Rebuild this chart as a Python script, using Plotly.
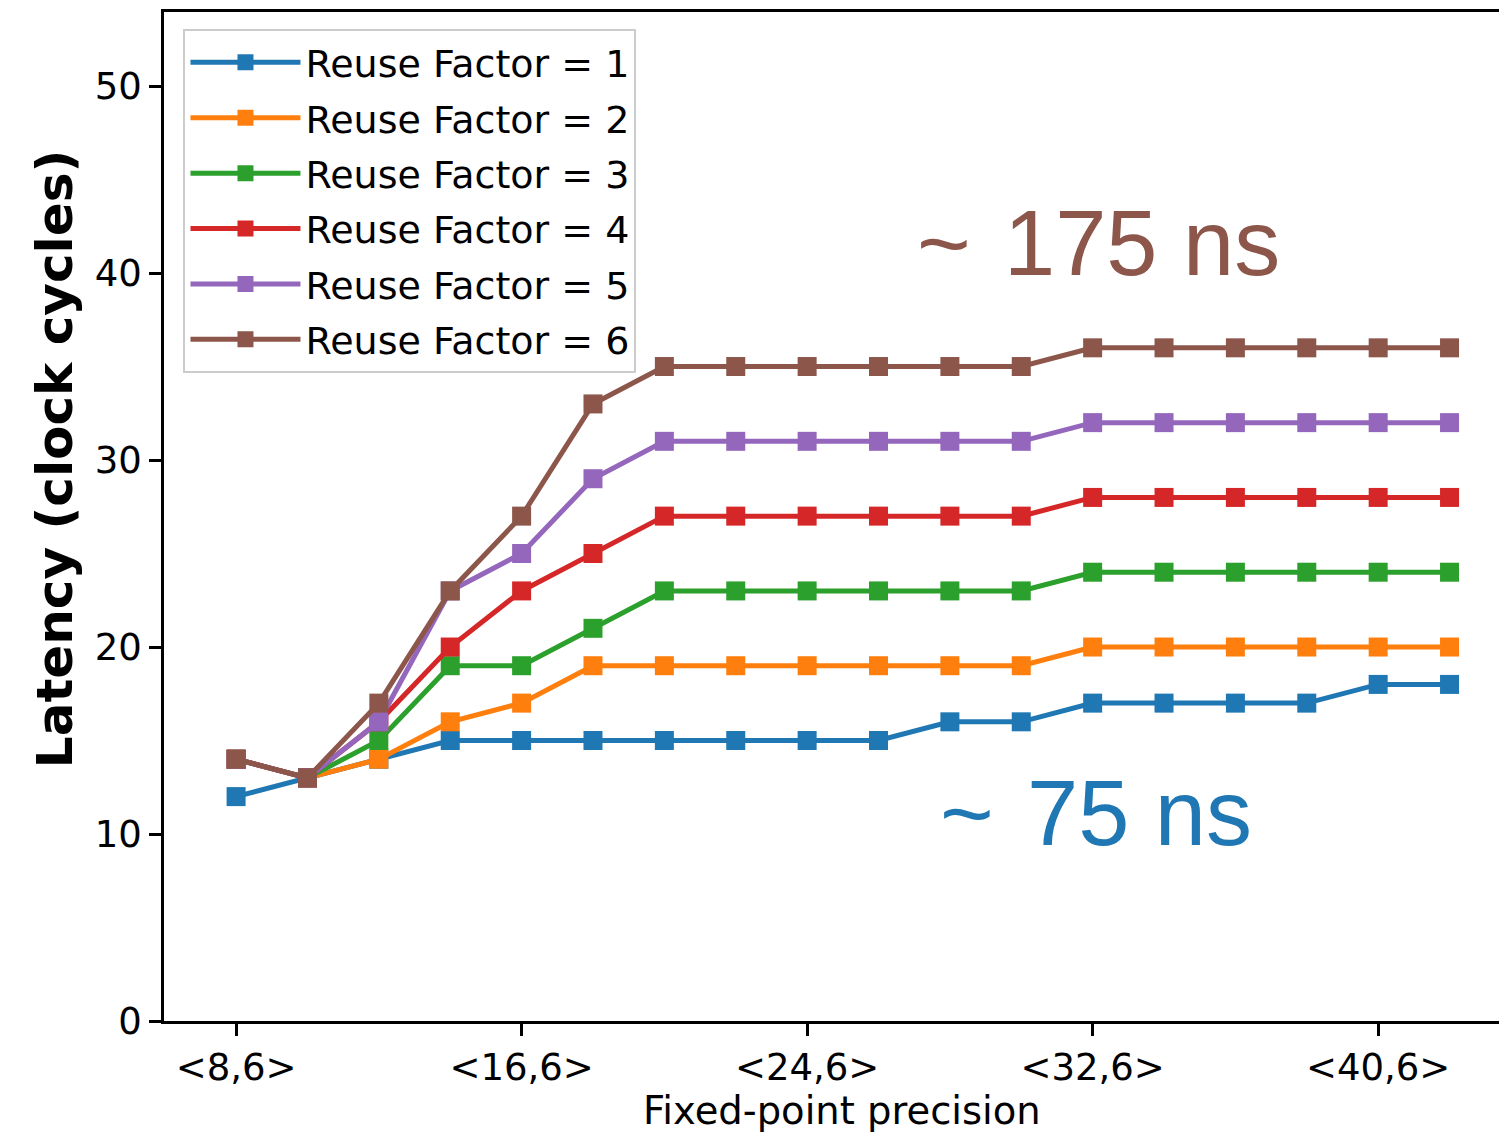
import plotly.graph_objects as go

x_bits = [8, 10, 12, 14, 16, 18, 20, 22, 24, 26, 28, 30, 32, 34, 36, 38, 40, 42]
rf1 = [12, 13, 14, 15, 15, 15, 15, 15, 15, 15, 16, 16, 17, 17, 17, 17, 18, 18]
rf2 = [14, 13, 14, 16, 17, 19, 19, 19, 19, 19, 19, 19, 20, 20, 20, 20, 20, 20]
rf3 = [14, 13, 15, 19, 19, 21, 23, 23, 23, 23, 23, 23, 24, 24, 24, 24, 24, 24]
rf4 = [14, 13, 16, 20, 23, 25, 27, 27, 27, 27, 27, 27, 28, 28, 28, 28, 28, 28]
rf5 = [14, 13, 16, 23, 25, 29, 31, 31, 31, 31, 31, 31, 32, 32, 32, 32, 32, 32]
rf6 = [14, 13, 17, 23, 27, 33, 35, 35, 35, 35, 35, 35, 36, 36, 36, 36, 36, 36]
series_names = ["Reuse Factor = 1", "Reuse Factor = 2", "Reuse Factor = 3",
                "Reuse Factor = 4", "Reuse Factor = 5", "Reuse Factor = 6"]
colors = ["#1f77b4", "#ff7f0e", "#2ca02c", "#d62728", "#9467bd", "#8c564b"]
tick_vals = [8, 16, 24, 32, 40]
tick_text = ["<8,6>", "<16,6>", "<24,6>", "<32,6>", "<40,6>"]

fig = go.Figure()
for i, (name, ys) in enumerate(zip(series_names, [rf1, rf2, rf3, rf4, rf5, rf6])):
    fig.add_trace(go.Scatter(
        x=x_bits, y=ys, name=name, mode="lines+markers",
        line=dict(color=colors[i], width=5),
        marker=dict(symbol="square", size=19, color=colors[i]),
        legendgroup=f"g{i}",
    ))

font_main = "DejaVu Sans"
# page body has an 8px margin, so the figure is shifted by 8px
fig.update_layout(
    width=1499, height=1127,
    margin=dict(l=156, r=0, t=4, b=114, autoexpand=False),
    paper_bgcolor="white", plot_bgcolor="white",
    font=dict(family=font_main, size=37, color="black"),
    showlegend=True,
    legend=dict(
        x=0.0145, y=0.983, xanchor="left", yanchor="top",
        bgcolor="white", bordercolor="#cccccc", borderwidth=2,
        font=dict(family=font_main, size=38, color="black"),
        tracegroupgap=3, itemwidth=110,
    ),
    xaxis=dict(
        range=[5.98, 43.61], tickmode="array", tickvals=tick_vals, ticktext=tick_text,
        showgrid=False, zeroline=False, showline=True, linecolor="black", linewidth=2.5,
        mirror=True, ticks="outside", ticklen=12, tickwidth=2.5, tickcolor="black",
        tickfont=dict(size=37), automargin=False,
    ),
    yaxis=dict(
        range=[0, 53.96], tickvals=[0, 10, 20, 30, 40, 50],
        showgrid=False, zeroline=False, showline=True, linecolor="black", linewidth=2.5,
        mirror=False, ticks="outside", ticklen=12, tickwidth=2.5, tickcolor="black",
        tickfont=dict(size=37), automargin=False,
    ),
    annotations=[
        dict(text="Latency (clock cycles)", textangle=-90, xref="paper", yref="paper",
             x=-0.081, y=0.557, xanchor="center", yanchor="middle", showarrow=False,
             font=dict(family=font_main, size=50, color="black", weight="bold")),
        dict(text="Fixed-point precision", xref="paper", yref="paper",
             x=0.505, y=-0.089, xanchor="center", yanchor="middle", showarrow=False,
             font=dict(family=font_main, size=38.5, color="black")),
        dict(text="~ \u200a175 ns", x=32.15, y=41.6, xref="x", yref="y", showarrow=False,
             font=dict(family="Liberation Sans", size=92, color="#8c564b")),
        dict(text="~ \u200a75 ns", x=32.1, y=11.1, xref="x", yref="y", showarrow=False,
             font=dict(family="Liberation Sans", size=92, color="#1f77b4")),
    ],
)

fig.write_html("out.html")
